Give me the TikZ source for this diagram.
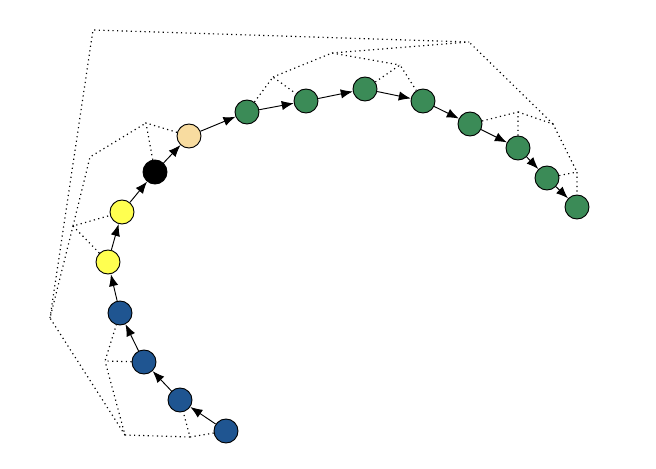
\documentclass[tikz,border=0pt]{standalone}
\usetikzlibrary{arrows.meta}
\definecolor{resblue}{RGB}{31,85,145}
\definecolor{resyellow}{RGB}{255,255,80}
\definecolor{reswheat}{RGB}{248,220,160}
\definecolor{resgreen}{RGB}{59,139,87}
\begin{document}
\begin{tikzpicture}[x=0.3mm,y=-0.3mm,
  res/.style={circle,draw=black,line width=0.8pt,minimum size=7.2mm,inner sep=0pt},
  link/.style={line width=0.8pt,-{Latex[length=3.6mm,width=2.8mm]}},
  tree/.style={dash pattern=on 1pt off 2.9pt,line width=1pt}]
\useasboundingbox (0,0) rectangle (656,468);
% residues
\node [res,fill=resblue] (r1) at (226,431) {};
\node [res,fill=resblue] (r2) at (180,400) {};
\node [res,fill=resblue] (r3) at (144,362) {};
\node [res,fill=resblue] (r4) at (120,313) {};
\node [res,fill=resyellow] (r5) at (108,262) {};
\node [res,fill=resyellow] (r6) at (122,212) {};
\node [res,fill=black] (r7) at (155,172) {};
\node [res,fill=reswheat] (r8) at (189,136) {};
\node [res,fill=resgreen] (r9) at (247,112) {};
\node [res,fill=resgreen] (r10) at (306,101) {};
\node [res,fill=resgreen] (r11) at (365,89) {};
\node [res,fill=resgreen] (r12) at (423,101) {};
\node [res,fill=resgreen] (r13) at (470,124) {};
\node [res,fill=resgreen] (r14) at (518,148) {};
\node [res,fill=resgreen] (r15) at (547,178) {};
\node [res,fill=resgreen] (r16) at (577,207) {};
\foreach \a/\b in {1/2,2/3,3/4,4/5,5/6,6/7,7/8,8/9,9/10,10/11,11/12,12/13,13/14,14/15,15/16}
  \draw [link] (r\a) -- (r\b);
% dendrogram
\coordinate (j12) at (190,437);
\coordinate (j34) at (105,361);
\coordinate (jlow) at (125,435);
\coordinate (j56) at (73,226);
\coordinate (j78) at (146,123);
\coordinate (jmid) at (90,157);
\coordinate (jleft) at (50,318);
\coordinate (jroot) at (93,30);
\coordinate (jtop) at (469,42);
\coordinate (j910) at (273,77);
\coordinate (j1112) at (400,65);
\coordinate (j912) at (332,53);
\coordinate (j1314) at (518,112);
\coordinate (j1516) at (577,172);
\coordinate (jright) at (553,124);
\draw [tree] (r1) -- (j12) -- (r2);
\draw [tree] (r3) -- (j34) -- (r4);
\draw [tree] (j12) -- (jlow) -- (j34);
\draw [tree] (r5) -- (j56) -- (r6);
\draw [tree] (r7) -- (j78) -- (r8);
\draw [tree] (j56) -- (jmid) -- (j78);
\draw [tree] (jlow) -- (jleft) -- (j56);
\draw [tree] (jleft) -- (jroot) -- (jtop);
\draw [tree] (r9) -- (j910) -- (r10);
\draw [tree] (r11) -- (j1112) -- (r12);
\draw [tree] (j910) -- (j912) -- (j1112);
\draw [tree] (j912) -- (jtop);
\draw [tree] (r13) -- (j1314) -- (r14);
\draw [tree] (r15) -- (j1516) -- (r16);
\draw [tree] (j1314) -- (jright) -- (j1516);
\draw [tree] (jright) -- (jtop);
\end{tikzpicture}
\end{document}
